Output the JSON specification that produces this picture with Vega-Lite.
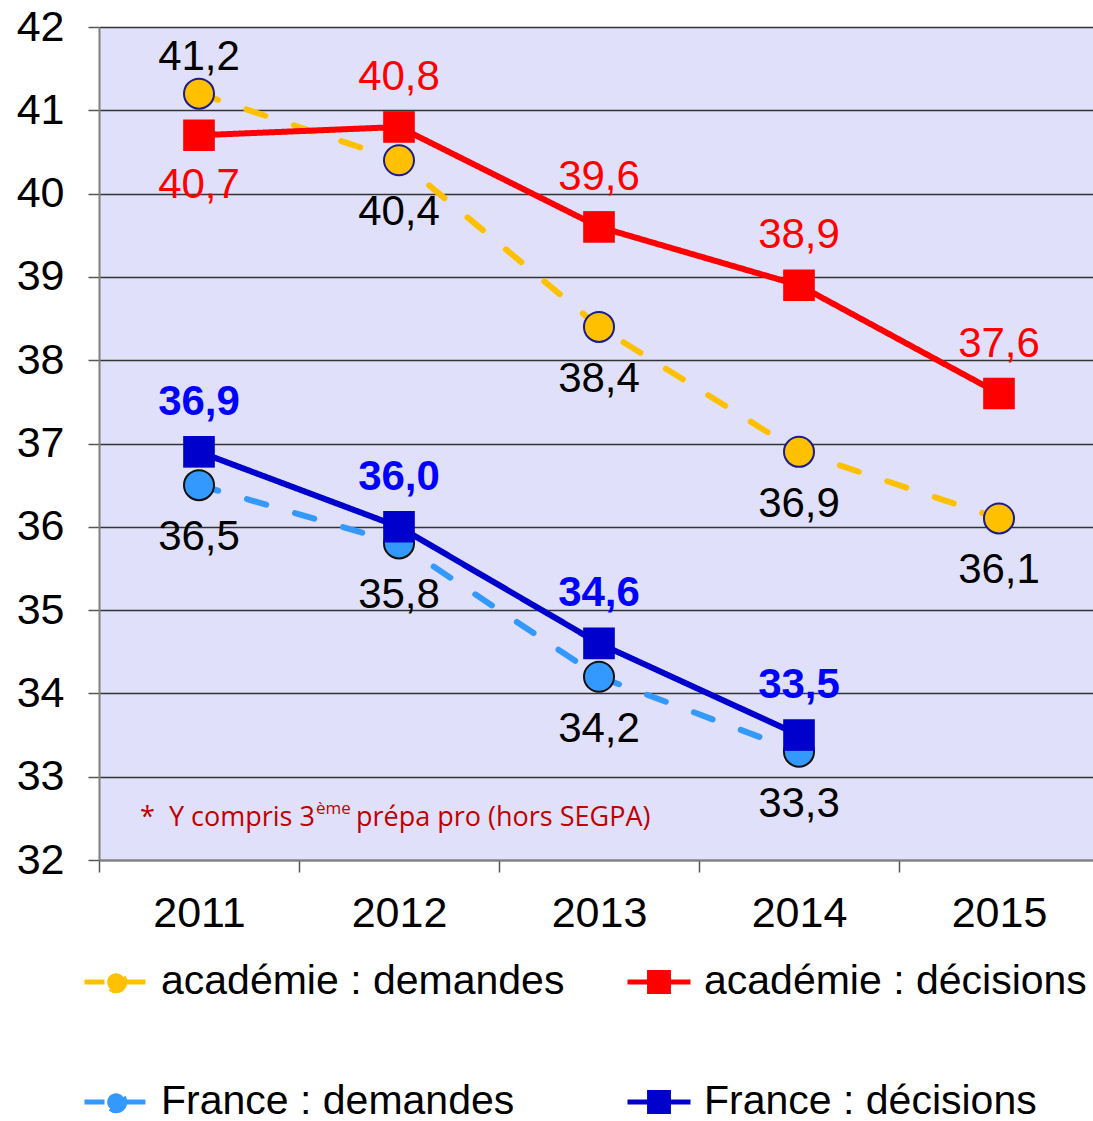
{
  "$schema": "https://vega.github.io/schema/vega-lite/v6.json",
  "width": 1000,
  "height": 833,
  "autosize": {"type": "none"},
  "padding": {"left": 99, "top": 27, "right": 0, "bottom": 261},
  "background": "white",
  "config": {
    "view": {"fill": "#E0E0FA", "stroke": null},
    "font": "Liberation Sans",
    "locale": {"number": {"decimal": ",", "thousands": " ", "grouping": [3], "currency": ["", " €"]}},
    "text": {"font": "Liberation Sans"}
  },
  "data": {
    "values": [
      {"year": "2011", "series": "académie : demandes", "value": 41.2},
      {"year": "2012", "series": "académie : demandes", "value": 40.4},
      {"year": "2013", "series": "académie : demandes", "value": 38.4},
      {"year": "2014", "series": "académie : demandes", "value": 36.9},
      {"year": "2015", "series": "académie : demandes", "value": 36.1},
      {"year": "2011", "series": "académie : décisions", "value": 40.7},
      {"year": "2012", "series": "académie : décisions", "value": 40.8},
      {"year": "2013", "series": "académie : décisions", "value": 39.6},
      {"year": "2014", "series": "académie : décisions", "value": 38.9},
      {"year": "2015", "series": "académie : décisions", "value": 37.6},
      {"year": "2011", "series": "France : demandes", "value": 36.5},
      {"year": "2012", "series": "France : demandes", "value": 35.8},
      {"year": "2013", "series": "France : demandes", "value": 34.2},
      {"year": "2014", "series": "France : demandes", "value": 33.3},
      {"year": "2011", "series": "France : décisions", "value": 36.9},
      {"year": "2012", "series": "France : décisions", "value": 36.0},
      {"year": "2013", "series": "France : décisions", "value": 34.6},
      {"year": "2014", "series": "France : décisions", "value": 33.5}
    ]
  },
  "encoding": {
    "x": {
      "field": "year", "type": "ordinal",
      "scale": {"domain": ["2011", "2012", "2013", "2014", "2015"], "paddingInner": 0, "paddingOuter": 0},
      "axis": {
        "title": null, "labelAngle": 0, "labelFontSize": 43, "labelColor": "black", "labelFont": "Liberation Sans",
        "labelPadding": 20, "tickBand": "extent", "tickSize": 12, "tickColor": "#555555", "tickWidth": 1.5,
        "domainColor": "#808080", "domainWidth": 2, "grid": false
      }
    },
    "y": {
      "field": "value", "type": "quantitative",
      "scale": {"domain": [32, 42], "nice": false, "zero": false},
      "axis": {
        "title": null, "values": [32, 33, 34, 35, 36, 37, 38, 39, 40, 41, 42],
        "labelFontSize": 43, "labelColor": "black", "labelFont": "Liberation Sans", "labelPadding": 24,
        "tickSize": 11, "tickColor": "#555555", "tickWidth": 1.5,
        "domainColor": "#808080", "domainWidth": 2,
        "grid": true, "gridColor": "#333333", "gridWidth": 1.5
      }
    }
  },
  "layer": [
    {
      "mark": {"type": "line", "strokeWidth": 6, "strokeCap": "round"},
      "encoding": {
        "color": {
          "field": "series", "type": "nominal",
          "scale": {
            "domain": ["académie : demandes", "académie : décisions", "France : demandes", "France : décisions"],
            "range": ["#FFC000", "#FF0000", "#3399FF", "#0000CC"]
          },
          "legend": {
            "title": null, "orient": "none", "direction": "horizontal", "legendX": -17, "legendY": 921, "columns": 2,
            "columnPadding": 52, "rowPadding": 66, "padding": 0,
            "labelFontSize": 41, "labelFont": "Liberation Sans", "labelColor": "black", "labelLimit": 2000,
            "labelOffset": 11, "symbolSize": 3969, "symbolStrokeWidth": 5, "symbolOpacity": 1,
            "encode": {
              "symbols": {
                "update": {
                  "shape": {"signal": "indexof(datum.value, 'demandes') >= 0 ? 'M-1,0H-0.3M0.3,0H1M0.28,0A0.28,0.28,0,1,1,-0.28,0A0.28,0.28,0,1,1,0.28,0Z' : 'M-1,0H1M-0.3,-0.3H0.3V0.3H-0.3Z'"},
                  "fill": {"scale": "color", "field": "value"},
                  "stroke": {"scale": "color", "field": "value"},
                  "strokeWidth": {"value": 5},
                  "opacity": {"value": 1},
                  "strokeDash": {"value": []}
                }
              }
            }
          }
        },
        "strokeDash": {
          "field": "series", "type": "nominal",
          "scale": {
            "domain": ["académie : demandes", "académie : décisions", "France : demandes", "France : décisions"],
            "range": [[20, 30], [1, 0], [20, 30], [1, 0]]
          },
          "legend": null
        }
      }
    },
    {
      "transform": [{"filter": "datum.series === 'académie : demandes'"}],
      "mark": {"type": "point", "shape": "circle", "filled": true, "size": 900, "stroke": "#1C1C8C", "strokeWidth": 2, "opacity": 1},
      "encoding": {"color": {"field": "series", "type": "nominal"}}
    },
    {
      "transform": [{"filter": "datum.series === 'France : demandes'"}],
      "mark": {"type": "point", "shape": "circle", "filled": true, "size": 900, "stroke": "#111111", "strokeWidth": 2, "opacity": 1},
      "encoding": {"color": {"field": "series", "type": "nominal"}}
    },
    {
      "transform": [{"filter": "indexof(datum.series, 'décisions') >= 0"}],
      "mark": {"type": "point", "shape": "square", "filled": true, "size": 1000, "strokeWidth": 0, "opacity": 1},
      "encoding": {"color": {"field": "series", "type": "nominal"}}
    },
    {
      "transform": [{"filter": "datum.series === 'académie : demandes' && datum.year !== '2011'"}],
      "mark": {"type": "text", "fontSize": 42, "color": "black", "baseline": "middle", "dy": 52},
      "encoding": {"text": {"field": "value", "type": "quantitative", "format": ".1f"}}
    },
    {
      "transform": [{"filter": "datum.series === 'académie : demandes' && datum.year === '2011'"}],
      "mark": {"type": "text", "fontSize": 42, "color": "black", "baseline": "middle", "dy": -37},
      "encoding": {"text": {"field": "value", "type": "quantitative", "format": ".1f"}}
    },
    {
      "transform": [{"filter": "datum.series === 'académie : décisions' && datum.year !== '2011'"}],
      "mark": {"type": "text", "fontSize": 42, "color": "#FF0000", "baseline": "middle", "dy": -50},
      "encoding": {"text": {"field": "value", "type": "quantitative", "format": ".1f"}}
    },
    {
      "transform": [{"filter": "datum.series === 'académie : décisions' && datum.year === '2011'"}],
      "mark": {"type": "text", "fontSize": 42, "color": "#FF0000", "baseline": "middle", "dy": 50},
      "encoding": {"text": {"field": "value", "type": "quantitative", "format": ".1f"}}
    },
    {
      "transform": [{"filter": "datum.series === 'France : demandes'"}],
      "mark": {"type": "text", "fontSize": 42, "color": "black", "baseline": "middle", "dy": 52},
      "encoding": {"text": {"field": "value", "type": "quantitative", "format": ".1f"}}
    },
    {
      "transform": [{"filter": "datum.series === 'France : décisions'"}],
      "mark": {"type": "text", "fontSize": 42, "fontWeight": "bold", "color": "#0000FF", "baseline": "middle", "dy": -50},
      "encoding": {"text": {"field": "value", "type": "quantitative", "format": ".1f"}}
    },
    {
      "transform": [{"filter": "datum.series === 'France : demandes' && datum.year === '2011'"}],
      "mark": {"type": "text", "font": "Open Sans", "fontSize": 27, "color": "#C00000", "align": "left", "baseline": "middle", "dx": -59, "dy": 0},
      "encoding": {"x": {"datum": "2011", "type": "ordinal"}, "y": {"datum": 32.5, "type": "quantitative"}, "text": {"value": "*\u00a0\u00a0Y compris 3"}}
    },
    {
      "transform": [{"filter": "datum.series === 'France : demandes' && datum.year === '2011'"}],
      "mark": {"type": "text", "font": "Open Sans", "fontSize": 17, "color": "#C00000", "align": "left", "baseline": "middle", "dx": 117, "dy": -9},
      "encoding": {"x": {"datum": "2011", "type": "ordinal"}, "y": {"datum": 32.5, "type": "quantitative"}, "text": {"value": "ème"}}
    },
    {
      "transform": [{"filter": "datum.series === 'France : demandes' && datum.year === '2011'"}],
      "mark": {"type": "text", "font": "Open Sans", "fontSize": 27, "color": "#C00000", "align": "left", "baseline": "middle", "dx": 157, "dy": 0},
      "encoding": {"x": {"datum": "2011", "type": "ordinal"}, "y": {"datum": 32.5, "type": "quantitative"}, "text": {"value": "prépa pro (hors SEGPA)"}}
    }
  ]
}
